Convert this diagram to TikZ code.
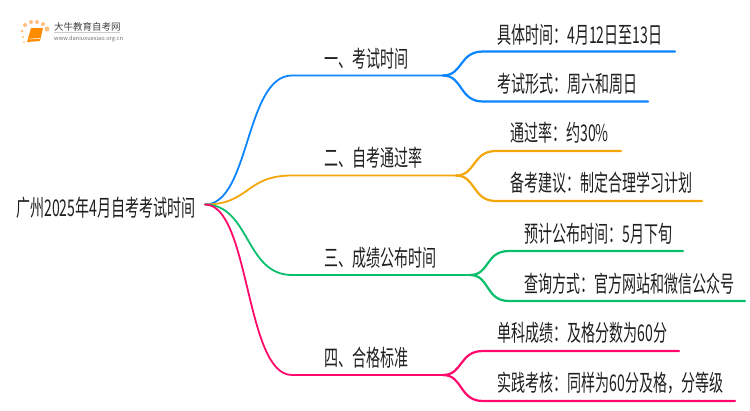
\documentclass[tikz,border=0pt]{standalone}
\usepackage{fontspec}
\setmainfont[FakeStretch=0.61]{Noto Sans CJK SC}
\newfontfamily\logofont{Noto Sans CJK SC}
\usetikzlibrary{positioning}
\definecolor{bluebr}{HTML}{0A84FF}
\definecolor{orangebr}{HTML}{F5A60A}
\definecolor{greenbr}{HTML}{0ABF6B}
\definecolor{pinkbr}{HTML}{FF0A6C}
\tikzset{
	branch/.style={line width=1.8pt, line cap=round},
	twig/.style={line width=2.2pt, line cap=round},
	lab/.style={inner sep=0pt, font=\fontsize{23pt}{25pt}\selectfont, text=black!88, anchor=base west},
}
\begin{document}
\begin{tikzpicture}[x=1pt, y=-1pt]
		\useasboundingbox (0,0) rectangle (750,410);
		%logo
		\foreach \x/\y/\r in {22/31/1.5, 23/37/1.2, 24/42/1, 25/25/2, 31/22/2, 37/22/2, 43/24/2, 47/29/2.5}{
			\fill[orange!50] (\x,\y) circle (\r);
		}
		\fill[orange!90!yellow] (31,28) -- (43,28) -- (40,41) -- (27,42) -- cycle;
		\draw[white, line width=0.6pt] (29.5,39) -- (40.5,38.5);
		\node[inner sep=0pt, anchor=west, font=\logofont\fontsize{9.5pt}{10pt}\selectfont, text=black!75] (logotitle) at (54,27) {大牛教育自考网};
		\node[inner sep=0pt, anchor=west, font=\logofont\fontsize{5.7pt}{6pt}\selectfont, text=black!55] (logourl) at (54,39) {www.daniuxuexiao.org.cn};
		\draw[black!20, line width=0.5pt] (logotitle.south west) ++(0,1) -- ++(66,0);
		
		%root
		\node[lab] (root) at (16,216) {广州2025年4月自考考试时间};
		\coordinate (hub) at (205,204.5);
		
		%first level
		\node[lab] (a) at (324,67) {一、考试时间};
		\node[lab] (b) at (324,166) {二、自考通过率};
		\node[lab] (c) at (324,266) {三、成绩公布时间};
		\node[lab] (d) at (324,366) {四、合格标准};
		\coordinate (ae) at (443,75.5);
		\coordinate (be) at (456,175.5);
		\coordinate (ce) at (470,275);
		\coordinate (de) at (443,375);
		
		%second level
		\node[lab] (a1) at (497,43) {具体时间：4月12日至13日};
		\node[lab] (a2) at (497,92) {考试形式：周六和周日};
		\node[lab] (b1) at (510,141) {通过率：约30\%};
		\node[lab] (b2) at (510,191) {备考建议：制定合理学习计划};
		\node[lab] (c1) at (524,242) {预计公布时间：5月下旬};
		\node[lab] (c2) at (524,292) {查询方式：官方网站和微信公众号};
		\node[lab] (d1) at (497,341) {单科成绩：及格分数为60分};
		\node[lab] (d2) at (497,391) {实践考核：同样为60分及格，分等级};
		
		\draw[branch, bluebr] (hub) .. controls (250,204.5) and (245,75.5) .. (292,75.5) -- (ae);
		\draw[branch, orangebr] (hub) .. controls (250,204.5) and (245,175.5) .. (292,175.5) -- (be);
		\draw[branch, greenbr] (hub) .. controls (250,204.5) and (245,275) .. (292,275) -- (ce);
		\draw[branch, pinkbr] (hub) .. controls (250,204.5) and (245,375) .. (292,375) -- (de);
		
		\draw[twig, bluebr] (ae) .. controls (463,75.5) and (459,51.5) .. (483,51.5) -- (675,51.5);
		\draw[twig, bluebr] (ae) .. controls (463,75.5) and (459,101.5) .. (483,101.5) -- (648,101.5);
		\draw[twig, orangebr] (be) .. controls (476,175.5) and (472,151) .. (496,151) -- (621,151);
		\draw[twig, orangebr] (be) .. controls (476,175.5) and (472,201) .. (496,201) -- (702,201);
		\draw[twig, greenbr] (ce) .. controls (490,275) and (485,251) .. (509,251) -- (683,251);
		\draw[twig, greenbr] (ce) .. controls (490,275) and (485,301) .. (509,301) -- (745,301);
		\draw[twig, pinkbr] (de) .. controls (463,375) and (459,351) .. (483,351) -- (679,351);
		\draw[twig, pinkbr] (de) .. controls (463,375) and (459,401) .. (483,401) -- (735,401);
		\end{tikzpicture}
\end{document}
